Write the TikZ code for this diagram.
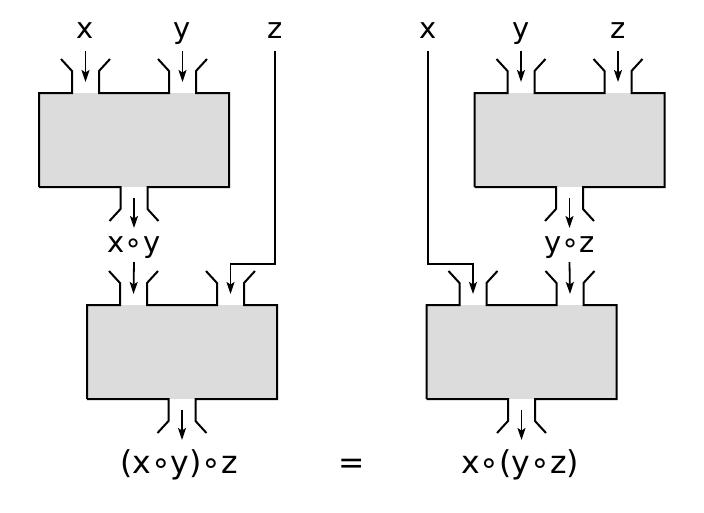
\documentclass[tikz,border=0pt]{standalone}
\usepackage{fontspec}
\setmainfont{DejaVu Sans}
\usetikzlibrary{arrows.meta,calc}
\definecolor{boxgray}{RGB}{220,220,220}
\tikzset{
  wall/.style={line width=2pt, line join=miter},
  arr/.style={line width=1.8pt, -{Stealth[length=12pt,width=8pt,inset=2.5pt]}},
  wire/.style={line width=1.8pt, line join=miter, -{Stealth[length=12pt,width=8pt,inset=2.5pt]}},
  boxfill/.style={fill=boxgray, draw=none, minimum width=190pt, minimum height=94pt, inner sep=0pt},
  toplab/.style={anchor=base, inner sep=0pt, font=\fontsize{29}{33}\selectfont},
  botlab/.style={anchor=base, inner sep=0pt, font=\fontsize{31.5}{36}\selectfont},
  opbox/.pic={
    \node[boxfill] (-box) at (0,0) {};
    \draw[wall] (-95,47) -- (-95,-47) -- (-62,-47) -- (-62,-69) -- (-73,-81);
    \draw[wall] (-24,-81) -- (-35,-69) -- (-35,-47) -- (35,-47) -- (35,-69) -- (24,-81);
    \draw[wall] (73,-81) -- (62,-69) -- (62,-47) -- (95,-47) -- (95,47) -- (13.5,47) -- (13.5,69) -- (24.5,81);
    \draw[wall] (-24.5,81) -- (-13.5,69) -- (-13.5,47) -- (-95,47);
    \coordinate (-in1) at (-48.5,-58);
    \coordinate (-in2) at (48.5,-58);
    \coordinate (-outs) at (0,58);
    \coordinate (-oute) at (0,88);
  }
}
\begin{document}
\begin{tikzpicture}[x=1pt,y=-1pt]
\useasboundingbox (0,0) rectangle (704,512);
% left side
\pic (A) at (134,140) {opbox};
\pic (B) at (182,352) {opbox};
\node[toplab] (xL) at (85.5,38) {x};
\node[toplab] (yL) at (182.5,38) {y};
\node[toplab] (zL) at (275,38) {z};
\node[toplab] (xyL) at (134,252) {x∘y};
\node[botlab] (resL) at (179,473) {(x∘y)∘z};
\draw[arr] ([yshift=-13pt]xL.base) -- (A-in1);
\draw[arr] ([yshift=-13pt]yL.base) -- (A-in2);
\draw[arr] (A-outs) -- (A-oute);
\draw[arr] ([yshift=-10pt]xyL.base) -- (B-in1);
\draw[wire] ([yshift=-13pt]zL.base) |- ($(B-in2)+(0,-30)$) -- (B-in2);
\draw[arr] (B-outs) -- (B-oute);
% equals
\node[botlab] (eq) at (352,473) {=};
% right side
\pic (C) at (569.5,140) {opbox};
\pic (D) at (521.5,352) {opbox};
\node[toplab] (xR) at (428,38) {x};
\node[toplab] (yR) at (521,38) {y};
\node[toplab] (zR) at (618,38) {z};
\node[toplab] (yzR) at (569.5,252) {y∘z};
\node[botlab] (resR) at (520,473) {x∘(y∘z)};
\draw[arr] ([yshift=-13pt]yR.base) -- (C-in1);
\draw[arr] ([yshift=-13pt]zR.base) -- (C-in2);
\draw[arr] (C-outs) -- (C-oute);
\draw[arr] ([yshift=-10pt]yzR.base) -- (D-in2);
\draw[wire] ([yshift=-13pt]xR.base) |- ($(D-in1)+(0,-30)$) -- (D-in1);
\draw[arr] (D-outs) -- (D-oute);
\end{tikzpicture}
\end{document}
